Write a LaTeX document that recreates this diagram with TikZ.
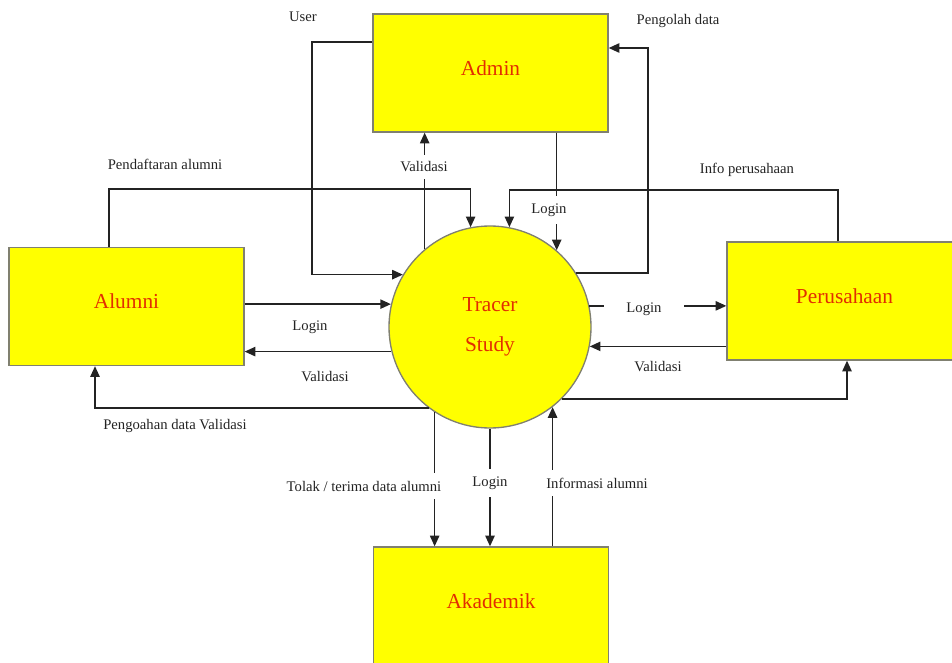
\documentclass[tikz,border=0pt]{standalone}
\usepackage{fontspec}
\setmainfont{Liberation Serif}
\usepackage{tikz}
\usetikzlibrary{arrows.meta}

\definecolor{boxyellow}{RGB}{255,255,0}
\definecolor{boxline}{RGB}{128,128,112}
\definecolor{titlered}{RGB}{226,46,0}
\definecolor{linegray}{RGB}{35,35,35}

\begin{document}
\begin{tikzpicture}[x=0.75pt,y=-0.75pt,
    entity/.style={draw=boxline,fill=boxyellow,line width=1pt,minimum width=176.25pt,minimum height=88.5pt,text depth=8pt,text=titlered,font=\fontsize{16}{19}\selectfont},
    process/.style={circle,draw=boxline,fill=boxyellow,line width=1pt,minimum size=151.5pt,text=titlered,align=center,font=\fontsize{16}{19}\selectfont},
    flow/.style={draw=linegray,line width=1.1pt,-{Triangle[length=8pt,width=7pt]}},
    lbl/.style={text=linegray,font=\fontsize{11}{13}\selectfont,inner sep=1pt},
    gap/.style={lbl,fill=white,inner xsep=2pt,inner ysep=6pt}]
        \clip (0,0) rectangle (952,663);
        % entitas dan proses
        \node[entity] (admin) at (490.5,73) {Admin};
        \node[entity] (alumni) at (126.5,306.5) {Alumni};
        \node[entity] (perusahaan) at (844.5,301) {Perusahaan};
        \node[entity] (akademik) at (491,606) {Akademik};
        \node[process] (tracer) at (490,327) {Tracer\\[11pt]Study};
        % admin
        \draw[flow] (admin.west |- 0,42) -- (312,42) |- (tracer.149);
        \draw[flow] (tracer.32.3) -| (648,48) -- (admin.east |- 0,48);
        \draw[flow] (tracer.130.8) -- (admin.south -| tracer.130.8);
        \draw[flow] (admin.south -| tracer.49.2) -- (tracer.49.2);
        % alumni
        \draw[flow] (alumni.north -| 109,0) |- (tracer.101.4 |- 0,189) -- (tracer.101.4);
        \draw[flow] (tracer.167.4 -| alumni.east) -- (tracer.167.4);
        \draw[flow] (tracer.194.3) -- (tracer.194.3 -| alumni.east);
        \draw[flow] (tracer.233.3) -| (alumni.south -| 95,0);
        % perusahaan
        \draw[flow] (perusahaan.north -| 838,0) |- (tracer.79.7 |- 0,190) -- (tracer.79.7);
        \draw[flow] (tracer.12) -- (tracer.12 -| perusahaan.west);
        \draw[flow] (perusahaan.west |- tracer.349.7) -- (tracer.349.7);
        \draw[flow] (tracer.315.3) -| (perusahaan.south -| 847,0);
        % akademik
        \draw[flow] (tracer.237) -- (tracer.237 |- akademik.north);
        \draw[flow] (tracer.south) -- (akademik.north -| tracer.south);
        \draw[flow] (akademik.north -| tracer.308.6) -- (tracer.308.6);
        % label
        \node[lbl] (luser) at (303,17) {User};
        \node[lbl] (lolah) at (678,21) {Pengolah data};
        \node[gap,inner ysep=5pt] (lvadm) at (424,167) {Validasi};
        \node[gap] (lloadm) at (549,210) {Login};
        \node[lbl] (ldaftar) at (165,164) {Pendaftaran alumni};
        \node[lbl] (linfo) at (747,170) {Info perusahaan};
        \node[lbl] (lloalm) at (310,327) {Login};
        \node[lbl] (lvaalm) at (325,377) {Validasi};
        \node[lbl] (lpengo) at (175,426) {Pengoahan data Validasi};
        \node[gap,inner xsep=17pt] (lloprs) at (644,309) {Login};
        \node[lbl] (lvaprs) at (658,367) {Validasi};
        \node[gap] (ltolak) at (364,486) {Tolak / terima data alumni};
        \node[gap] (lloakd) at (490,483) {Login};
        \node[gap] (linfal) at (597,483) {Informasi alumni};
\end{tikzpicture}
\end{document}
